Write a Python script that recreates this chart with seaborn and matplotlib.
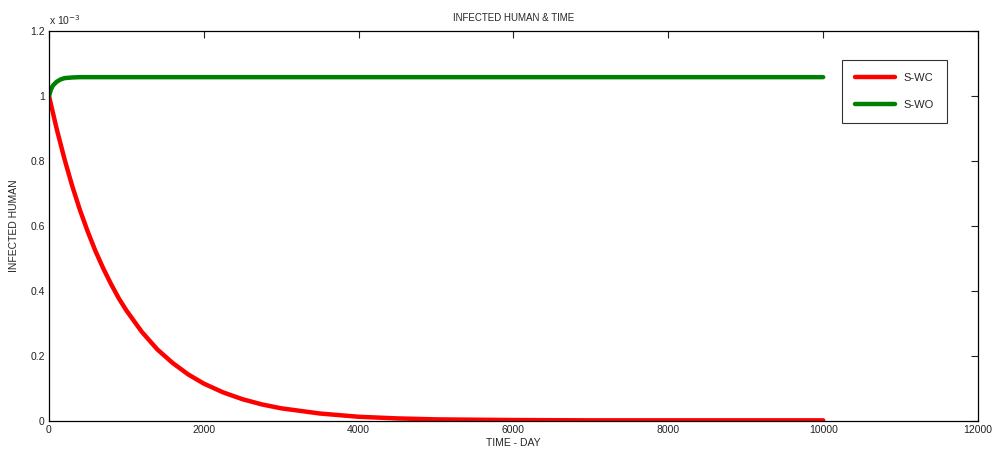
import pandas as pd
import matplotlib.pyplot as plt
import seaborn as sns

# values (infected human, in units of 1e-3)
days_wc = [0, 100, 200, 300, 400, 500, 600, 700, 800, 900, 1000, 1200, 1400, 1600, 1800,
           2000, 2250, 2500, 2750, 3000, 3500, 4000, 4500, 5000, 6000, 7000, 8000, 10000]
swc = [1.0, 0.898, 0.806, 0.723, 0.649, 0.583, 0.523, 0.47, 0.422, 0.378, 0.34, 0.274,
       0.22, 0.178, 0.143, 0.115, 0.088, 0.067, 0.051, 0.039, 0.023, 0.013, 0.008, 0.005,
       0.003, 0.002, 0.002, 0.002]

days_wo = [0, 25, 50, 100, 150, 200, 300, 400, 1000, 5000, 10000]
swo = [1.0, 1.02, 1.032, 1.044, 1.051, 1.055, 1.057, 1.058, 1.058, 1.058, 1.058]

df = pd.concat([
    pd.DataFrame({'day': days_wc, 'val': swc, 'case': 'S-WC'}),
    pd.DataFrame({'day': days_wo, 'val': swo, 'case': 'S-WO'}),
])

sns.set_style('white')
plt.rcParams['font.family'] = ['Liberation Sans', 'DejaVu Sans']

fig = plt.figure(figsize=(9.95, 4.5), dpi=100)
ax = fig.add_axes([49 / 995, 1 - 421 / 450, 929 / 995, 390 / 450])

sns.lineplot(data=df, x='day', y='val', hue='case', palette={'S-WC': '#ff0000', 'S-WO': '#008000'},
             linewidth=3.2, ax=ax, sort=False)

ax.set_xlim(0, 12000)
ax.set_ylim(0, 1.2)
ax.set_xticks(range(0, 12001, 2000))
ax.set_yticks([0, 0.2, 0.4, 0.6, 0.8, 1.0, 1.2])
ax.set_yticklabels(['0', '0.2', '0.4', '0.6', '0.8', '1', '1.2'])
ax.tick_params(direction='in', length=5, width=0.8, labelsize=7.5, top=True, right=True,
               colors='#222222', pad=3)
for s in ax.spines.values():
    s.set_color('black')
    s.set_linewidth(0.9)

ax.set_title('INFECTED HUMAN & TIME', fontsize=7, pad=7)
ax.set_xlabel('TIME - DAY', fontsize=7.5, labelpad=2)
ax.set_ylabel('INFECTED HUMAN', fontsize=7.5, labelpad=8)
ax.text(0, 1.01, 'x 10$^{-3}$', transform=ax.transAxes, fontsize=7.5, ha='left', va='bottom')

leg = ax.legend(loc='upper right', bbox_to_anchor=(0.9665, 0.926), fontsize=8, frameon=True,
                fancybox=False, edgecolor='black', handlelength=3.6, borderpad=1.15,
                labelspacing=1.55, borderaxespad=0)
leg.get_frame().set_linewidth(0.8)

fig.savefig('out.png', dpi=100)
